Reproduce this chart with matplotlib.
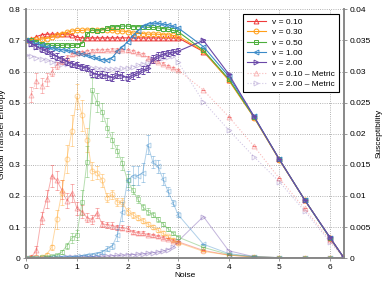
import matplotlib
matplotlib.use('Agg')
import matplotlib.pyplot as plt
from matplotlib.lines import Line2D
import numpy as np

plt.rcParams['font.family'] = ['Liberation Sans', 'DejaVu Sans']
plt.rcParams['font.size'] = 6

# noise levels
noise = [0.0, 0.1, 0.2, 0.3, 0.4, 0.5, 0.6, 0.7, 0.8, 0.9, 1.0,
         1.1, 1.2, 1.3, 1.4, 1.5, 1.6, 1.7, 1.8, 1.9, 2.0,
         2.1, 2.2, 2.3, 2.4, 2.5, 2.6, 2.7, 2.8, 2.9, 3.0,
         3.5, 4.0, 4.5, 5.0, 5.5, 6.0, 6.2832]

# susceptibility (right axis)
sus_v010 = [0.0350, 0.0352, 0.0356, 0.0359, 0.0360, 0.0360, 0.0360, 0.0360, 0.0360, 0.0359, 0.0355,
            0.0354, 0.0354, 0.0354, 0.0354, 0.0354, 0.0354, 0.0354, 0.0354, 0.0354, 0.0354,
            0.0354, 0.0354, 0.0354, 0.0354, 0.0354, 0.0354, 0.0354, 0.0354, 0.0354, 0.0354,
            0.0332, 0.0287, 0.0227, 0.0159, 0.0094, 0.0033, 0.0]
sus_v030 = [0.0350, 0.0351, 0.0352, 0.0352, 0.0353, 0.0355, 0.0358, 0.0361, 0.0363, 0.0365, 0.0366,
            0.0366, 0.0367, 0.0366, 0.0366, 0.0367, 0.0366, 0.0366, 0.0365, 0.0365, 0.0364,
            0.0362, 0.0361, 0.0361, 0.0360, 0.0360, 0.0360, 0.0359, 0.0359, 0.0358, 0.0357,
            0.0333, 0.0286, 0.0226, 0.0158, 0.0094, 0.0033, 0.0]
sus_v050 = [0.0350, 0.0350, 0.0348, 0.0345, 0.0343, 0.0342, 0.0342, 0.0342, 0.0343, 0.0342, 0.0343,
            0.0345, 0.0360, 0.0367, 0.0365, 0.0367, 0.0370, 0.0372, 0.0372, 0.0373, 0.0373,
            0.0372, 0.0372, 0.0372, 0.0371, 0.0371, 0.0370, 0.0369, 0.0368, 0.0366, 0.0364,
            0.0334, 0.0288, 0.0227, 0.0159, 0.0094, 0.0033, 0.0]
sus_v100 = [0.0350, 0.03475, 0.0345, 0.03425, 0.0340, 0.0338, 0.0336, 0.0335, 0.0334, 0.03325, 0.0330,
            0.03285, 0.0326, 0.0324, 0.0321, 0.0319, 0.03185, 0.03225, 0.03325, 0.0340, 0.03475,
            0.03575, 0.0365, 0.03725, 0.0376, 0.03775, 0.03775, 0.0376, 0.0375, 0.03725, 0.0370,
            0.0340, 0.02925, 0.0228, 0.0159, 0.0094, 0.0033, 0.0]
sus_v200 = [0.0350, 0.0345, 0.0340, 0.0336, 0.03325, 0.03275, 0.0324, 0.0320, 0.0316, 0.03125, 0.0310,
            0.03075, 0.0306, 0.02975, 0.0295, 0.0295, 0.02925, 0.0290, 0.0295, 0.02925, 0.0290,
            0.0294, 0.02975, 0.03025, 0.0305, 0.0320, 0.0325, 0.03275, 0.0330, 0.0331, 0.03325,
            0.0350, 0.0296, 0.0228, 0.0159, 0.0094, 0.0034, 0.0]
sus_v200_err = [0.0, 0.0004, 0.0004, 0.0004, 0.0005, 0.0005, 0.0005, 0.0005, 0.0005, 0.0005, 0.0005,
                0.0005, 0.0005, 0.0006, 0.0006, 0.0006, 0.0006, 0.0006, 0.0006, 0.0006, 0.0006,
                0.0006, 0.0006, 0.0006, 0.0006, 0.0006, 0.0006, 0.0005, 0.0005, 0.0005, 0.0005,
                0.0002, 0.0, 0.0, 0.0, 0.0, 0.0, 0.0]
sus_m010 = [np.nan, 0.02625, 0.0285, 0.02775, 0.02875, 0.0300, 0.0310, 0.03175, 0.03225, 0.03275, 0.0330,
            0.0331, 0.03325, 0.03335, 0.0334, 0.0334, 0.03345, 0.0335, 0.0335, 0.03345, 0.0334,
            0.03325, 0.0330, 0.03275, 0.03225, 0.0319, 0.0316, 0.03125, 0.0309, 0.0306, 0.03025,
            0.0270, 0.02275, 0.0180, 0.01285, 0.0080, 0.00295, 0.0]
sus_m010_err = [0.0, 0.0012, 0.0012, 0.0012, 0.0010, 0.0008, 0.0006, 0.0005, 0.0004, 0.0003, 0.0003,
                0.0002, 0.0002, 0.0002, 0.0002, 0.0002, 0.0002, 0.0002, 0.0002, 0.0002, 0.0002,
                0.0002, 0.0002, 0.0002, 0.0002, 0.0002, 0.0002, 0.0002, 0.0002, 0.0002, 0.0002,
                0.0, 0.0, 0.0, 0.0, 0.0, 0.0, 0.0]
sus_m200 = [0.0326, 0.0325, 0.03225, 0.0320, 0.0318, 0.0316, 0.0314, 0.03125, 0.03115, 0.0311, 0.0310,
            0.0309, 0.03075, 0.0306, 0.0305, 0.0304, 0.03035, 0.03035, 0.0304, 0.0305, 0.0306,
            0.03075, 0.0310, 0.03125, 0.0315, 0.03175, 0.0320, 0.03225, 0.0324, 0.0325, 0.0315,
            0.02515, 0.0206, 0.0163, 0.0123, 0.0076, 0.00265, 0.0]

# global transfer entropy (left axis)
gte_v010 = [0.0, 0.005, 0.025, 0.13, 0.19, 0.265, 0.25, 0.22, 0.185, 0.21, 0.16,
            0.15, 0.13, 0.125, 0.145, 0.11, 0.108, 0.105, 0.10, 0.098, 0.095,
            0.085, 0.082, 0.08, 0.076, 0.074, 0.07, 0.066, 0.062, 0.057, 0.053,
            0.025, 0.01, 0.004, 0.002, 0.001, 0.001, 0.0]
gte_v010_err = [0, 0.005, 0.015, 0.02, 0.03, 0.035, 0.03, 0.03, 0.025, 0.03, 0.02,
                0.02, 0.015, 0.015, 0.015, 0.01, 0.01, 0.01, 0.008, 0.008, 0.008,
                0.006, 0.006, 0.006, 0.005, 0.005, 0.005, 0.004, 0.004, 0.004, 0.004,
                0, 0, 0, 0, 0, 0, 0]
gte_v030 = [0.0, 0.002, 0.003, 0.005, 0.012, 0.035, 0.125, 0.21, 0.32, 0.41, 0.52,
            0.46, 0.38, 0.28, 0.275, 0.25, 0.195, 0.205, 0.18, 0.18, 0.15,
            0.14, 0.13, 0.12, 0.11, 0.10, 0.09, 0.08, 0.07, 0.06, 0.05,
            0.022, 0.01, 0.004, 0.002, 0.001, 0.001, 0.0]
gte_v030_err = [0, 0.002, 0.002, 0.003, 0.005, 0.008, 0.03, 0.04, 0.045, 0.05, 0.04,
                0.05, 0.04, 0.03, 0.02, 0.02, 0.015, 0.015, 0.012, 0.012, 0.01,
                0.01, 0.008, 0.008, 0.008, 0.006, 0.006, 0.006, 0.005, 0.005, 0.005,
                0, 0, 0, 0, 0, 0, 0]
gte_v050 = [0.0, 0.001, 0.002, 0.003, 0.004, 0.006, 0.01, 0.02, 0.04, 0.065, 0.075,
            0.18, 0.31, 0.54, 0.50, 0.47, 0.42, 0.38, 0.345, 0.305, 0.25,
            0.22, 0.19, 0.165, 0.15, 0.14, 0.125, 0.11, 0.095, 0.08, 0.068,
            0.035, 0.012, 0.005, 0.002, 0.001, 0.001, 0.0]
gte_v050_err = [0, 0, 0.001, 0.002, 0.002, 0.003, 0.004, 0.006, 0.01, 0.015, 0.015,
                0.04, 0.05, 0.04, 0.03, 0.03, 0.03, 0.025, 0.02, 0.02, 0.02,
                0.015, 0.012, 0.01, 0.01, 0.008, 0.008, 0.006, 0.006, 0.005, 0.005,
                0, 0, 0, 0, 0, 0, 0]
gte_v100 = [0.0, 0.001, 0.001, 0.002, 0.002, 0.003, 0.003, 0.004, 0.004, 0.005, 0.006,
            0.008, 0.01, 0.012, 0.015, 0.02, 0.03, 0.04, 0.075, 0.15, 0.25,
            0.265, 0.265, 0.275, 0.365, 0.31, 0.295, 0.255, 0.215, 0.178, 0.14,
            0.045, 0.015, 0.005, 0.002, 0.001, 0.001, 0.0]
gte_v100_err = [0, 0, 0, 0.001, 0.001, 0.001, 0.001, 0.002, 0.002, 0.002, 0.002,
                0.003, 0.003, 0.004, 0.005, 0.006, 0.008, 0.01, 0.02, 0.03, 0.03,
                0.03, 0.03, 0.03, 0.03, 0.02, 0.02, 0.02, 0.015, 0.01, 0.008,
                0, 0, 0, 0, 0, 0, 0]
gte_v200 = [0.0, 0.001, 0.001, 0.001, 0.002, 0.002, 0.002, 0.002, 0.003, 0.003, 0.003,
            0.004, 0.004, 0.005, 0.005, 0.006, 0.007, 0.008, 0.009, 0.01, 0.011,
            0.012, 0.013, 0.014, 0.016, 0.018, 0.02, 0.023, 0.028, 0.035, 0.055,
            0.134, 0.024, 0.005, 0.002, 0.001, 0.001, 0.0]

labels = ['v = 0.10', 'v = 0.30', 'v = 0.50', 'v = 1.00', 'v = 2.00',
          'v = 0.10 \u2013 Metric', 'v = 2.00 \u2013 Metric']

red, orange, green, blue, purple = '#ee3b3b', '#ff9f1a', '#4cae3c', '#3a8ac8', '#6a48a8'

fig = plt.figure(figsize=(3.82, 2.81), dpi=100)
ax = fig.add_axes([0.069, 0.081, 0.832, 0.886])
ax2 = ax.twinx()

light = 0.4
ms = 3.5
eb = dict(capsize=1.5, elinewidth=0.6, capthick=0.6, lw=0.7, ms=ms, mfc='none', mew=0.7, alpha=light)
ax.errorbar(noise, gte_v010, yerr=gte_v010_err, color=red, marker='^', **eb)
ax.errorbar(noise, gte_v030, yerr=gte_v030_err, color=orange, marker='o', **eb)
ax.errorbar(noise, gte_v050, yerr=gte_v050_err, color=green, marker='s', **eb)
ax.errorbar(noise, gte_v100, yerr=gte_v100_err, color=blue, marker='<', **eb)
ax.plot(noise, gte_v200, color=purple, marker='>', lw=0.7, ms=ms, mfc='none', mew=0.7, alpha=light)

# metric curves (dotted)
ax2.errorbar(noise, sus_m010, yerr=sus_m010_err, color=red, marker='^', ls=':',
             capsize=1.5, elinewidth=0.6, lw=0.8, ms=ms, mfc='none', mew=0.7, alpha=0.35)
ax2.plot(noise, sus_m200, color=purple, marker='>', ls=':', lw=0.8, ms=ms,
         mfc='none', mew=0.7, alpha=0.3)

sk = dict(lw=0.8, ms=ms, mfc='none', mew=0.7)
ax2.plot(noise, sus_v010, color=red, marker='^', **sk)
ax2.plot(noise, sus_v030, color=orange, marker='o', **sk)
ax2.plot(noise, sus_v050, color=green, marker='s', **sk)
ax2.plot(noise, sus_v100, color=blue, marker='<', **sk)
ax2.errorbar(noise, sus_v200, yerr=sus_v200_err, color=purple, marker='>',
             capsize=1.5, elinewidth=0.6, **sk)

ax.set_xlim(0, 2 * np.pi)
ax.set_ylim(0, 0.8)
ax2.set_ylim(0, 0.04)
ax.set_xticks(range(7))
ax.set_yticks([0, 0.1, 0.2, 0.3, 0.4, 0.5, 0.6, 0.7, 0.8])
ax.set_yticklabels(['0', '0.1', '0.2', '0.3', '0.4', '0.5', '0.6', '0.7', '0.8'])
ax2.set_yticks([0, 0.005, 0.01, 0.015, 0.02, 0.025, 0.03, 0.035, 0.04])
ax2.set_yticklabels(['0', '0.005', '0.01', '0.015', '0.02', '0.025', '0.03', '0.035', '0.04'])

ax.grid(True, ls=':', color='#999999', lw=0.6)
for a in (ax, ax2):
    a.spines['top'].set_visible(False)
    for s in ('left', 'right', 'bottom'):
        a.spines[s].set_color('#888888')
        a.spines[s].set_linewidth(1.2)
    a.tick_params(direction='out', length=2.5, width=0.6, color='#888888', labelsize=6, pad=1.5)

ax.set_xlabel('Noise', fontsize=6, labelpad=1)
ax.set_ylabel('Global Transfer Entropy', fontsize=6, labelpad=2)
ax2.set_ylabel('Susceptibility', fontsize=6, labelpad=3)

# legend handles: plain line + marker
styles = [(red, '^', '-', 1), (orange, 'o', '-', 1), (green, 's', '-', 1),
          (blue, '<', '-', 1), (purple, '>', '-', 1), (red, '^', ':', 0.35), (purple, '>', ':', 0.3)]
handles = [Line2D([], [], color=c, marker=m, ls=l, alpha=al, lw=0.8, ms=ms, mfc='none', mew=0.7)
           for c, m, l, al in styles]
leg = ax2.legend(handles, labels, loc='upper right',
                 bbox_to_anchor=(0.99, 0.99), fontsize=6, frameon=True, fancybox=False,
                 handlelength=2.3, borderpad=0.45, labelspacing=0.3, handletextpad=0.7,
                 borderaxespad=0.3)
leg.get_frame().set_edgecolor('black')
leg.get_frame().set_linewidth(0.8)
leg.get_frame().set_alpha(1)

fig.savefig('out.png', dpi=100)
